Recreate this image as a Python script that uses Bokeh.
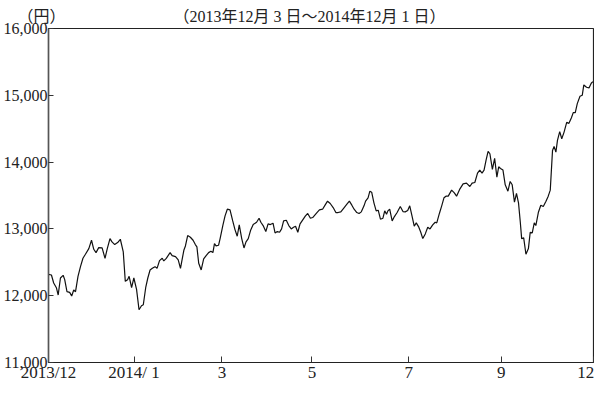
from bokeh.plotting import figure
from bokeh.models import FixedTicker, NumeralTickFormatter, Range1d
from bokeh.embed import file_html
from bokeh.resources import INLINE

# trading-day index (0 = 2013/12/3, 242 = 2014/12/1) and price (yen)
days = [0, 1.3, 2.3, 3.5, 4.3, 5.3, 6.5, 7.2, 8.2, 9.4, 10.3, 11.2, 12.0, 13.1, 14.2, 15.3, 16.4,
        17.9, 19.1, 20.1, 21.1, 22.3, 23.8, 25.1, 26.1, 27.3, 28.2, 29.4, 30.7, 31.9, 33.2, 34.1,
        35.1, 35.8, 36.9, 37.9, 39.1, 40.2, 41.3, 42.1, 43.2, 44.1, 45.1, 46.1, 47.3, 48.2, 49.3,
        50.5, 51.2, 52.3, 54.0, 54.9, 56.4, 57.6,
        58.6, 60.1, 60.8, 61.8, 63.0, 64.2, 65.2, 65.9, 66.7, 67.8, 68.9, 70.0, 71.1, 72.1, 73.0,
        73.7, 74.4, 75.5, 76.2, 77.4, 78.4, 79.4, 80.6, 81.8, 82.8, 83.8, 84.7, 85.8, 86.8, 87.7,
        88.7, 89.7, 90.9, 92.4, 93.5, 94.3, 95.3, 96.5, 97.5, 98.5, 99.7, 100.6, 101.6, 102.6,
        103.5, 104.4, 105.6, 106.7, 107.8, 108.8, 109.7, 110.7, 111.7, 112.9, 114.1, 115.1,
        116.3, 117.3,
        119.2, 120.3, 121.7, 122.8, 123.9, 125.1, 126.4, 127.6, 128.6, 129.8, 131.3, 132.5,
        133.6, 134.7, 135.7, 136.9, 137.9, 138.9, 140.1, 140.8, 141.9, 142.7, 143.5, 144.5,
        145.5, 146.4, 147.4, 148.5, 149.3, 150.1, 150.7, 151.5, 152.6, 153.6, 154.8, 156.2,
        157.4, 158.4, 159.5, 160.4, 161.4, 162.4, 163.3, 164.3, 165.3, 166.2, 167.3, 168.4,
        169.4, 170.6, 171.7, 172.4, 173.6, 174.6, 175.6, 176.5,
        177.5, 179.0, 180.2, 181.2, 182.7, 184.1, 185.6, 187.1, 188.1, 189.3, 190.5, 191.5,
        192.5, 193.4, 194.3, 195.2, 196.0, 197.1, 198.1, 199.1, 199.9, 200.7, 201.8, 202.8,
        204.0, 205.0, 205.9, 206.9, 207.8, 208.7, 209.5, 210.1, 211.0, 212.0, 213.1, 213.9,
        214.8, 215.7, 216.4, 217.5, 218.6, 219.7, 220.9, 221.9, 222.8, 223.8, 224.5, 225.3,
        226.0, 227.0, 227.9, 228.9, 230.1, 231.1, 232.2, 233.0, 233.9, 234.8, 236.0, 237.0,
        237.7, 238.9, 240.0, 241.0, 241.7]

prices = [12320, 12310, 12190, 12120, 12010, 12265, 12305, 12240, 12060, 12050, 11995, 12085,
          12060, 12290, 12435, 12560, 12620, 12705, 12830, 12695, 12645, 12720, 12715, 12560,
          12705, 12855, 12805, 12765, 12795, 12845, 12655, 12215, 12240, 12290, 12120, 12265,
          12095, 11790, 11850, 11865, 12130, 12265, 12385, 12410, 12435, 12410, 12525, 12560,
          12520, 12560, 12645, 12600, 12585, 12535,
          12410, 12680, 12745, 12900, 12875, 12830, 12765, 12730, 12485, 12385, 12550, 12600,
          12645, 12665, 12645, 12780, 12745, 12755, 12855, 13050, 13195, 13295, 13285, 13120,
          12990, 12890, 13060, 12855, 12715, 12805, 12855, 12975, 13065, 13100, 13160, 13100,
          13050, 12960, 13075, 13065, 13085, 12940, 12960, 12950, 13000, 13120, 13130, 13050,
          13000, 13025, 13040, 12950, 13075, 13135, 13195, 13230, 13160, 13170,
          13245, 13285, 13295, 13355, 13415, 13380, 13320, 13245, 13245, 13255, 13320, 13370,
          13415, 13355, 13295, 13245, 13230, 13255, 13345, 13415, 13465, 13565, 13550, 13390,
          13270, 13280, 13145, 13160, 13270, 13220, 13270, 13295, 13120, 13185, 13245, 13335,
          13260, 13255, 13275, 13345, 13195, 13040, 13090, 13035, 12950, 12855, 12925, 13025,
          13000, 13060, 13100, 13090, 13235, 13345, 13465, 13490,
          13490, 13580, 13540, 13490, 13600, 13675, 13685, 13635, 13685, 13695, 13835, 13880,
          13835, 13880, 14030, 14160, 14125, 13890, 14055, 13775, 13930, 13905, 13880, 13660,
          13565, 13710, 13660, 13400, 13530, 13390, 13100, 12855, 12865, 12620, 12705, 12950,
          12940, 13090, 13050, 13245, 13355, 13335, 13415, 13490, 13580, 14175, 14235, 14150,
          14325, 14455, 14350, 14445, 14595, 14580, 14665, 14740, 14740, 14875, 14985, 15000,
          15155, 15120, 15110, 15180, 15205]

# month-boundary tick marks and where their labels sit
x_tick_days = [0, 38, 77, 117, 160, 201, 242]
x_label_days = [0, 38, 77, 117, 160, 201, 238.6]
x_tick_labels = ["2013/12", "2014/ 1", "3", "5", "7", "9", "12"]
y_ticks = [11000, 12000, 13000, 14000, 15000, 16000]

unit_label = "（円）"
period_label = "（2013年12月 3 日～2014年12月 1 日）"

SERIF = "Liberation Serif, Noto Sans CJK JP"

p = figure(width=594, height=384, output_backend="svg", toolbar_location=None,
           x_range=Range1d(0, 242), y_range=Range1d(11000, 16000),
           min_border_left=44, min_border_right=1, min_border_top=28, min_border_bottom=20)

p.xgrid.visible = False
p.ygrid.visible = False
p.background_fill_color = "white"
p.border_fill_color = "white"
p.outline_line_color = "#222222"
p.outline_line_width = 1.2

# header: unit at left, period in the middle (one title row)
p.title.text = unit_label + "\u3000" * 7 + "  " + period_label
p.title.align = "left"
p.title.offset = -31
p.title.standoff = 8
p.title.text_font = SERIF
p.title.text_font_size = "16px"
p.title.text_font_style = "normal"
p.title.text_color = "#222222"

p.line(days, prices, line_color="#111111", line_width=1.2)

# y axis
p.yaxis.ticker = FixedTicker(ticks=y_ticks)
p.yaxis.formatter = NumeralTickFormatter(format="0,0")
p.yaxis.major_label_text_font = SERIF
p.yaxis.major_label_text_font_size = "16px"
p.yaxis.major_label_text_color = "#222222"
p.yaxis.major_label_standoff = 1
p.yaxis.major_tick_in = 5
p.yaxis.major_tick_out = 0
p.yaxis.minor_tick_line_color = None
p.yaxis.axis_line_color = "#555555"
p.yaxis.axis_line_width = 1.5
p.yaxis.major_tick_line_color = "#333333"

# x axis: tick marks at month boundaries (minor), labels at label positions (major)
p.xaxis.ticker = FixedTicker(ticks=x_label_days, minor_ticks=x_tick_days)
p.xaxis.major_label_overrides = {d: t for d, t in zip(x_label_days, x_tick_labels)}
p.xaxis.major_tick_line_color = None
p.xaxis.major_tick_in = 0
p.xaxis.major_tick_out = 0
p.xaxis.minor_tick_line_color = "#333333"
p.xaxis.minor_tick_in = 6
p.xaxis.minor_tick_out = 0
p.xaxis.major_label_standoff = 0
p.xaxis.major_label_text_font = SERIF
p.xaxis.major_label_text_font_size = "17px"
p.xaxis.major_label_text_color = "#222222"
p.xaxis.axis_line_color = "#222222"
p.xaxis.axis_line_width = 1.2

open("out.html", "w").write(file_html(p, INLINE))
